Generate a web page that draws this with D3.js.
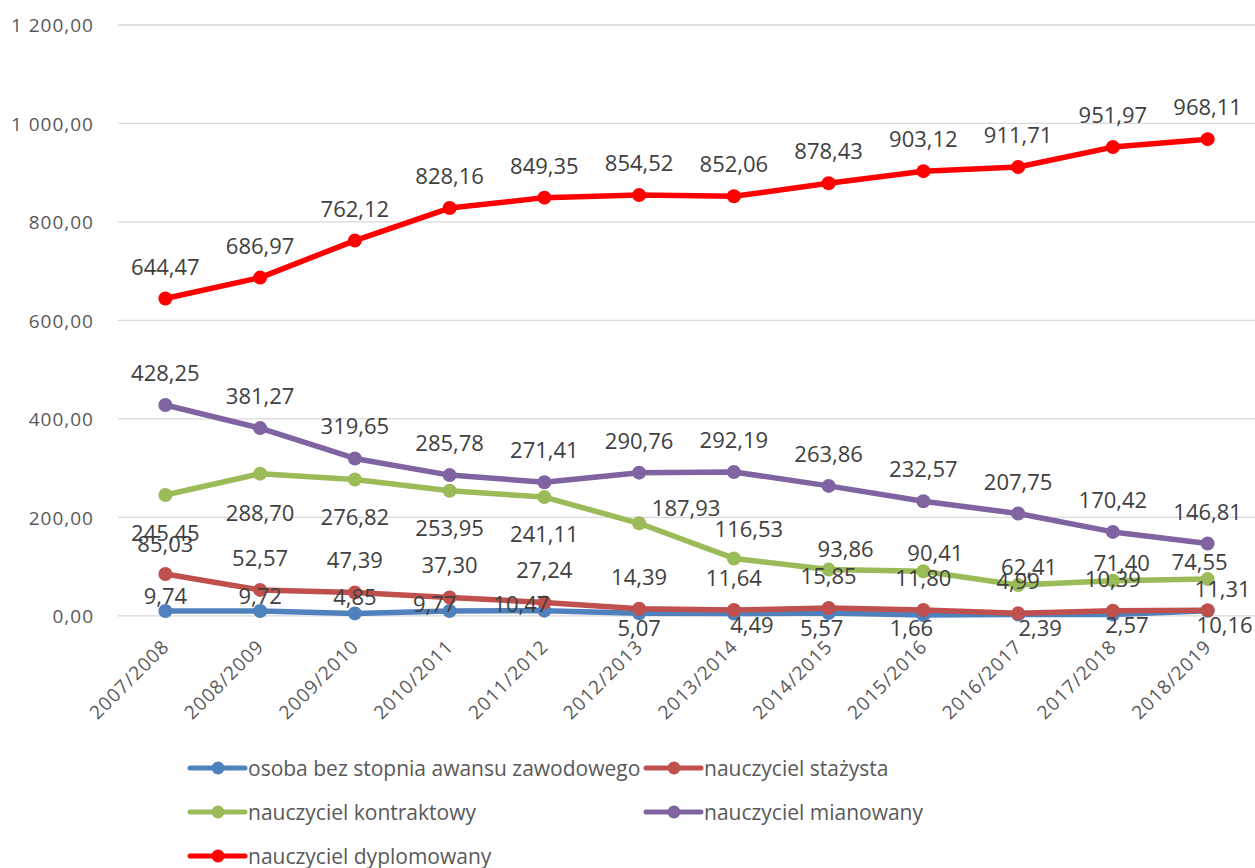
<!DOCTYPE html>
<html lang="pl">
<head>
<meta charset="utf-8">
<script src="https://cdn.jsdelivr.net/npm/d3@7"></script>
<style>
  html, body { margin: 0; padding: 0; background: #ffffff; }
  svg { display: block; }
</style>
</head>
<body>
<svg id="chart" width="1255" height="868"></svg>
<script>
// School years on the category axis
const years = ["2007/2008", "2008/2009", "2009/2010", "2010/2011", "2011/2012", "2012/2013",
               "2013/2014", "2014/2015", "2015/2016", "2016/2017", "2017/2018", "2018/2019"];

// Values for each professional grade
const osobaBezStopnia = [9.74, 9.72, 4.85, 9.77, 10.47, 5.07, 4.49, 5.57, 1.66, 2.39, 2.57, 10.16];
const stazysta        = [85.03, 52.57, 47.39, 37.30, 27.24, 14.39, 11.64, 15.85, 11.80, 4.99, 10.39, 11.31];
const kontraktowy     = [245.45, 288.70, 276.82, 253.95, 241.11, 187.93, 116.53, 93.86, 90.41, 62.41, 71.40, 74.55];
const mianowany       = [428.25, 381.27, 319.65, 285.78, 271.41, 290.76, 292.19, 263.86, 232.57, 207.75, 170.42, 146.81];
const dyplomowany     = [644.47, 686.97, 762.12, 828.16, 849.35, 854.52, 852.06, 878.43, 903.12, 911.71, 951.97, 968.11];

const seriesNames = ["osoba bez stopnia awansu zawodowego", "nauczyciel stażysta",
                     "nauczyciel kontraktowy", "nauczyciel mianowany", "nauczyciel dyplomowany"];

// Value axis ticks
const yTicks = [0, 200, 400, 600, 800, 1000, 1200];

// Label placement relative to each point: [dx, dy] of the label centre
const labelShiftOsoba = [[0,-16],[0,-16],[0,-17],[-15,-8],[-23,-8],[0,14],[18,10],[-7,14],[-12,12],[22,12],[14,9],[17,13]];
const labelShiftStazysta = [[0,-31],[0,-33],[0,-33],[0,-33],[0,-33],[0,-33],[0,-33],[0,-33],[0,-33],[0,-33],[0,-33],[15,-22]];
const labelShiftKontraktowy = [[0,37],[0,38],[0,36],[0,36],[0,36],[47,-16],[15,-30],[17,-22],[12,-19],[11,-19],[9,-19],[-8,-18]];
const labelShiftMianowany = years.map(() => [0, -33]);
const labelShiftDyplomowany = years.map(() => [0, -33]);

const colors = ["#4F81BD", "#C0504D", "#9BBB59", "#8064A2", "#FF0000"];

const series = [
  { name: seriesNames[0], values: osobaBezStopnia, shift: labelShiftOsoba, color: colors[0] },
  { name: seriesNames[1], values: stazysta, shift: labelShiftStazysta, color: colors[1] },
  { name: seriesNames[2], values: kontraktowy, shift: labelShiftKontraktowy, color: colors[2] },
  { name: seriesNames[3], values: mianowany, shift: labelShiftMianowany, color: colors[3] },
  { name: seriesNames[4], values: dyplomowany, shift: labelShiftDyplomowany, color: colors[4] }
];

// Polish number formatting: comma decimal, space thousands
const pl = d3.formatLocale({ decimal: ",", thousands: " ", grouping: [3], currency: ["", " zł"] });
const fmt = pl.format(",.2f");

const svg = d3.select("#chart");

const plot = { left: 118, right: 1255, top: 25, bottom: 615.8 };

const x = d3.scaleBand().domain(years).range([plot.left, plot.right]).padding(0);
const y = d3.scaleLinear().domain([0, 1200]).range([plot.bottom, plot.top]);
const cx = d => x(d) + x.bandwidth() / 2;

// Horizontal gridlines
svg.append("g")
  .selectAll("line")
  .data(yTicks)
  .join("line")
  .attr("x1", plot.left).attr("x2", plot.right)
  .attr("y1", d => y(d)).attr("y2", d => y(d))
  .attr("stroke", "#D9D9D9")
  .attr("stroke-width", 1.3);

// Value axis labels
const yAxis = d3.axisLeft(y).tickValues(yTicks).tickFormat(fmt).tickSize(0).tickPadding(0);
const yAxisG = svg.append("g")
  .attr("transform", `translate(94,0)`)
  .call(yAxis);
yAxisG.select(".domain").remove();
yAxisG.selectAll("text")
  .attr("font-family", "'Open Sans', sans-serif")
  .attr("font-size", 19)
  .attr("letter-spacing", 1)
  .attr("fill", "#595959")
  .attr("dy", "0.36em");

// Category axis labels, rotated
const xAxis = d3.axisBottom(x).tickSize(0).tickPadding(0);
const xAxisG = svg.append("g")
  .attr("transform", `translate(0,${plot.bottom})`)
  .call(xAxis);
xAxisG.select(".domain").remove();
xAxisG.selectAll("text")
  .attr("font-family", "'Open Sans', sans-serif")
  .attr("font-size", 19)
  .attr("letter-spacing", 1)
  .attr("fill", "#595959")
  .attr("text-anchor", "end")
  .attr("y", 0).attr("dy", 0)
  .attr("transform", "translate(5,32) rotate(-45)");

// Lines and markers
const line = d3.line()
  .x((d, i) => cx(years[i]))
  .y(d => y(d));

const seriesG = svg.append("g");
series.forEach(s => {
  const g = seriesG.append("g");
  g.append("path")
    .datum(s.values)
    .attr("d", line)
    .attr("fill", "none")
    .attr("stroke", s.color)
    .attr("stroke-width", 5.5)
    .attr("stroke-linejoin", "round")
    .attr("stroke-linecap", "round");
  g.selectAll("circle")
    .data(s.values)
    .join("circle")
    .attr("cx", (d, i) => cx(years[i]))
    .attr("cy", d => y(d))
    .attr("r", 7)
    .attr("fill", s.color);
});

// Data labels
const labelsG = svg.append("g");
series.forEach(s => {
  labelsG.append("g")
    .selectAll("text")
    .data(s.values)
    .join("text")
    .attr("x", (d, i) => cx(years[i]) + s.shift[i][0])
    .attr("y", (d, i) => y(d) + s.shift[i][1])
    .attr("text-anchor", "middle")
    .attr("dominant-baseline", "central")
    .attr("font-family", "'Open Sans', sans-serif")
    .attr("font-size", 22)
    .attr("fill", "#404040")
    .text(d => fmt(d));
});

// Legend
const legendItems = [
  { s: series[0], x: 190, y: 768 },
  { s: series[1], x: 646, y: 768 },
  { s: series[2], x: 190, y: 812 },
  { s: series[3], x: 646, y: 812 },
  { s: series[4], x: 190, y: 856 }
];
const legend = svg.append("g");
legendItems.forEach(item => {
  const g = legend.append("g").attr("transform", `translate(${item.x},${item.y})`);
  g.append("line")
    .attr("x1", 0).attr("x2", 55)
    .attr("y1", 0).attr("y2", 0)
    .attr("stroke", item.s.color)
    .attr("stroke-width", 5)
    .attr("stroke-linecap", "round");
  g.append("circle")
    .attr("cx", 28).attr("cy", 0).attr("r", 6.5)
    .attr("fill", item.s.color);
  g.append("text")
    .attr("x", 58).attr("y", 0)
    .attr("dominant-baseline", "central")
    .attr("font-family", "'Open Sans', sans-serif")
    .attr("font-size", 21)
    .attr("fill", "#595959")
    .text(item.s.name);
});
</script>
</body>
</html>
